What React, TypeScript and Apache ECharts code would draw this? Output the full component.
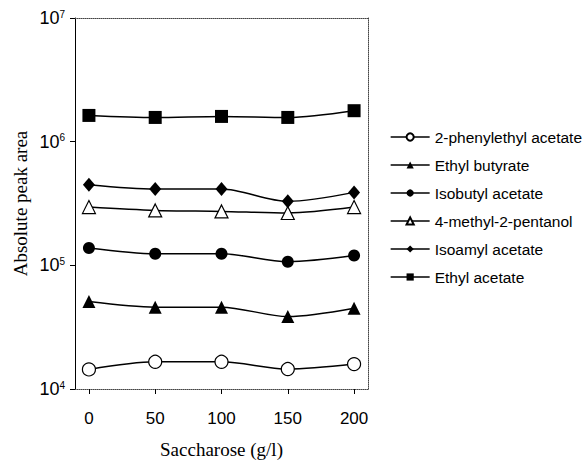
import React, { useEffect, useRef } from "react";
import * as echarts from "echarts";

const saccharose = [0, 50, 100, 150, 200];
const xTicks = [0, 50, 100, 150, 200];

const phenylethylAcetate = [1.44e4, 1.66e4, 1.66e4, 1.45e4, 1.59e4];
const ethylButyrate = [5.09e4, 4.59e4, 4.59e4, 3.85e4, 4.5e4];
const isobutylAcetate = [1.38e5, 1.24e5, 1.24e5, 1.07e5, 1.2e5];
const methylPentanol = [2.96e5, 2.78e5, 2.73e5, 2.65e5, 2.96e5];
const isoamylAcetate = [4.49e5, 4.14e5, 4.14e5, 3.29e5, 3.89e5];
const ethylAcetate = [1.63e6, 1.57e6, 1.6e6, 1.57e6, 1.78e6];

const legendOrder = [
  "2-phenylethyl acetate",
  "Ethyl butyrate",
  "Isobutyl acetate",
  "4-methyl-2-pentanol",
  "Isoamyl acetate",
  "Ethyl acetate",
];

const pair = (ys: number[]) => saccharose.map((x, i) => [x, ys[i]]);

export default function App() {
  const ref = useRef<HTMLDivElement>(null);
  useEffect(() => {
    if (!ref.current) return;
    const chart = echarts.init(ref.current, null, { renderer: "svg" });
    const sans = "Liberation Sans, Arial, sans-serif";
    const serif = "Liberation Serif, Times New Roman, serif";
    const mk = (
      name: string,
      ys: number[],
      symbol: string,
      size: number | number[],
      open: boolean
    ) => ({
      name,
      type: "line",
      data: pair(ys),
      smooth: 0.3,
      symbol,
      symbolSize: size,
      showAllSymbol: true,
      lineStyle: { color: "#000", width: 1.5 },
      itemStyle: open
        ? { color: "#fff", borderColor: "#000", borderWidth: 1.2 }
        : { color: "#000", borderColor: "#000", borderWidth: 0 },
      emphasis: { disabled: true },
      z: 3,
    });
    chart.setOption({
      animation: false,
      backgroundColor: "#fff",
      grid: { left: 75, top: 18, right: 218, bottom: 72, containLabel: false, outerBoundsMode: "none" },
      legend: {
        orient: "vertical",
        left: 385,
        top: 124,
        itemWidth: 39,
        itemHeight: 9,
        itemGap: 12,
        data: legendOrder,
        lineStyle: { width: 1.3, color: "#000" },
        textStyle: { fontFamily: sans, fontSize: 15.5, color: "#000", lineHeight: 16 },
      },
      xAxis: [
        {
          type: "value",
          min: -10.5,
          max: 210.5,
          position: "bottom",
          axisLine: { show: true, onZero: false, lineStyle: { color: "#444", type: "dotted", width: 1 } },
          axisTick: {
            show: true,
            length: 5,
            customValues: xTicks,
            lineStyle: { color: "#000", width: 1 },
          },
          axisLabel: {
            customValues: xTicks,
            margin: 21,
            fontFamily: sans,
            fontSize: 17,
            color: "#000",
          },
          splitLine: { show: false },
          name: "Saccharose (g/l)",
          nameLocation: "middle",
          nameGap: 51,
          nameTextStyle: { fontFamily: serif, fontSize: 19, color: "#000" },
        },
        {
          type: "value",
          min: -10.5,
          max: 210.5,
          position: "top",
          axisLine: { show: true, onZero: false, lineStyle: { color: "#444", type: "dotted", width: 1 } },
          axisTick: { show: false },
          axisLabel: { show: false },
          splitLine: { show: false },
        },
      ],
      yAxis: [
        {
          type: "log",
          logBase: 10,
          min: 1e4,
          max: 1e7,
          position: "left",
          axisLine: { show: true, onZero: false, lineStyle: { color: "#000", width: 1 } },
          axisTick: { show: true, length: 5, lineStyle: { color: "#000", width: 1 } },
          minorTick: { show: false },
          splitLine: { show: false },
          axisLabel: {
            margin: 10,
            formatter: (v: number) => `{b|10}{s|${Math.round(Math.log10(v))}}`,
            rich: {
              b: { fontFamily: sans, fontSize: 18, color: "#000", lineHeight: 18 },
              s: { fontFamily: sans, fontSize: 10, color: "#000", lineHeight: 10, verticalAlign: "top" },
            },
          },
          name: "Absolute peak area",
          nameLocation: "middle",
          nameGap: 45,
          nameTextStyle: { fontFamily: serif, fontSize: 19, color: "#000" },
        },
        {
          type: "log",
          logBase: 10,
          min: 1e4,
          max: 1e7,
          position: "right",
          axisLine: { show: true, onZero: false, lineStyle: { color: "#444", type: "dotted", width: 1 } },
          axisTick: { show: false },
          axisLabel: { show: false },
          splitLine: { show: false },
        },
      ],
      series: [
        mk("2-phenylethyl acetate", phenylethylAcetate, "circle", 13, true),
        mk("Ethyl butyrate", ethylButyrate, "triangle", 13, false),
        mk("Isobutyl acetate", isobutylAcetate, "circle", 12, false),
        mk("4-methyl-2-pentanol", methylPentanol, "triangle", 13, true),
        mk("Isoamyl acetate", isoamylAcetate, "diamond", [12, 14], false),
        mk("Ethyl acetate", ethylAcetate, "rect", 13, false),
      ],
    });
    return () => chart.dispose();
  }, []);
  return (
    <div
      ref={ref}
      style={{ position: "fixed", left: 0, top: 0, width: 586, height: 461 }}
    />
  );
}
